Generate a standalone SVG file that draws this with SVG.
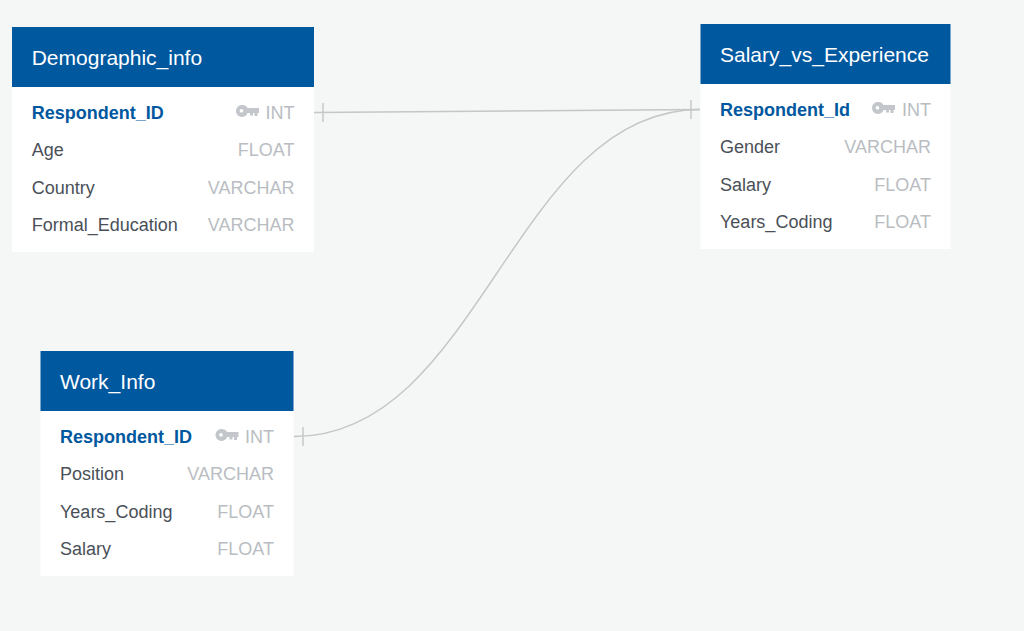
<svg xmlns="http://www.w3.org/2000/svg" width="1024" height="631" viewBox="0 0 1024 631">
<style>
text{font-family:"Liberation Sans",Arial,sans-serif;font-size:18px}
.h{fill:#fff;font-size:21px}
.b{fill:#fff}
.t{fill:#00589f}
.k{fill:#00589f;font-weight:bold}
.n{fill:#4a5058}
.y{fill:#b9bdc2;text-anchor:end}
.c{fill:none;stroke:#c3c7c7;stroke-width:1.4}
.i{fill:#c3c7cc}
</style>
<defs><path id="key" d="M6 0a6 6 0 0 1 5.600 3H23v5h-1.500V11h-3V8h-1.500V10.500h-3V8H11.600A6 6 0 1 1 6 0zM5.500 4a1.800 1.800 0 1 0 .01 0z" fill-rule="evenodd"/></defs>
<rect width="1024" height="631" fill="#f5f6f6"/>
<g id="connectors">
<path class="c" d="M314 112.500L700 109.500M323 103V122"/>
<path class="c" d="M294 436.500C480 436.500 514 109.500 700 109.500M303 427V446"/>
<path class="c" d="M691 100V119"/>
</g>
<g id="Demographic_info">
<rect class="b" x="12" y="87" width="302" height="165"/><rect class="t" x="12" y="27" width="302" height="60"/>
<text class="h" x="31.700" y="65">Demographic_info</text>
<text class="k" x="31.700" y="119">Respondent_ID</text><use href="#key" class="i" x="236" y="105"/><text class="y" x="294.500" y="119">INT</text>
<text class="n" x="31.700" y="156">Age</text><text class="y" x="294.500" y="156">FLOAT</text>
<text class="n" x="31.700" y="194">Country</text><text class="y" x="294.500" y="194">VARCHAR</text>
<text class="n" x="31.700" y="231">Formal_Education</text><text class="y" x="294.500" y="231">VARCHAR</text>
</g>
<g id="Salary_vs_Experience">
<rect class="b" x="700.500" y="84" width="250" height="165"/><rect class="t" x="700.500" y="24" width="250" height="60"/>
<text class="h" x="720" y="62">Salary_vs_Experience</text>
<text class="k" x="720" y="116">Respondent_Id</text><use href="#key" class="i" x="872" y="102"/><text class="y" x="931" y="116">INT</text>
<text class="n" x="720" y="153">Gender</text><text class="y" x="931" y="153">VARCHAR</text>
<text class="n" x="720" y="191">Salary</text><text class="y" x="931" y="191">FLOAT</text>
<text class="n" x="720" y="228">Years_Coding</text><text class="y" x="931" y="228">FLOAT</text>
</g>
<g id="Work_Info">
<rect class="b" x="40.500" y="411" width="253" height="165"/><rect class="t" x="40.500" y="351" width="253" height="60"/>
<text class="h" x="60" y="389">Work_Info</text>
<text class="k" x="60" y="443">Respondent_ID</text><use href="#key" class="i" x="215.500" y="429"/><text class="y" x="274" y="443">INT</text>
<text class="n" x="60" y="480">Position</text><text class="y" x="274" y="480">VARCHAR</text>
<text class="n" x="60" y="518">Years_Coding</text><text class="y" x="274" y="518">FLOAT</text>
<text class="n" x="60" y="555">Salary</text><text class="y" x="274" y="555">FLOAT</text>
</g>
</svg>
